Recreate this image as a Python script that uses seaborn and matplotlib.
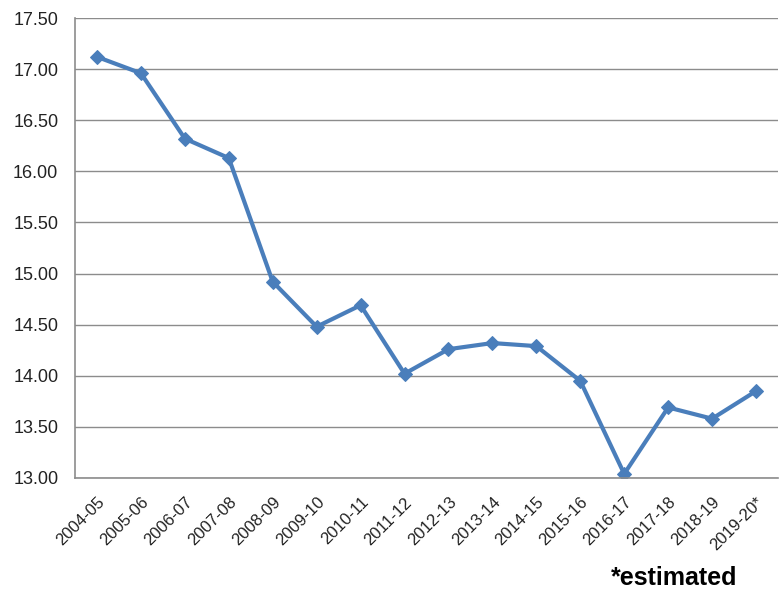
import pandas as pd
import matplotlib
matplotlib.use('Agg')
import matplotlib.pyplot as plt
import seaborn as sns
import numpy as np
from matplotlib.ticker import FixedLocator, FuncFormatter

# Chart values
years = ['2004-05', '2005-06', '2006-07', '2007-08', '2008-09', '2009-10', '2010-11', '2011-12',
         '2012-13', '2013-14', '2014-15', '2015-16', '2016-17', '2017-18', '2018-19', '2019-20*']
values = [17.12, 16.96, 16.32, 16.13, 14.92, 14.48, 14.69, 14.02,
          14.26, 14.32, 14.29, 13.95, 13.04, 13.69, 13.58, 13.85]
y_ticks = [13.0, 13.5, 14.0, 14.5, 15.0, 15.5, 16.0, 16.5, 17.0, 17.5]

df = pd.DataFrame({'Year': years, 'Value': values})
df['pos'] = np.arange(len(years))

sns.set_style('white')
plt.rcParams['font.family'] = ['Liberation Sans', 'DejaVu Sans']

fig = plt.figure(figsize=(7.83, 5.89), dpi=100)
ax = fig.add_axes([0.0958, 0.1885, 0.8978, 0.7809])

sns.lineplot(x='pos', y='Value', data=df, ax=ax, color='#4A7EBB', linewidth=3,
             marker='D', markersize=7, markeredgecolor='#4A7EBB')

ax.set_xlim(-0.5, len(years) - 0.5)
ax.set_ylim(13.0, 17.5)

# Grid
ax.yaxis.set_major_locator(FixedLocator(y_ticks))
ax.yaxis.set_major_formatter(FuncFormatter(lambda v, _: f'{v:.2f}'))
ax.grid(axis='y', color='#8C8C8C', linewidth=1)
ax.set_axisbelow(True)

# X ticks: labels at centers, tick marks at boundaries
ax.xaxis.set_major_locator(FixedLocator(df['pos']))
ax.set_xticklabels(years, rotation=45, ha='right', rotation_mode='anchor')
ax.xaxis.set_minor_locator(FixedLocator(np.arange(-0.5, len(years), 1)))
ax.tick_params(axis='x', which='major', length=0, pad=12, labelsize=12, colors='#222222')
ax.tick_params(axis='x', which='minor', length=6, width=1, color='#8C8C8C', direction='out')
ax.tick_params(axis='y', which='major', length=5, width=1, color='#8C8C8C', direction='out',
               labelsize=13, labelcolor='#222222', pad=7)

for side in ['top', 'right']:
    ax.spines[side].set_visible(False)
for side in ['left', 'bottom']:
    ax.spines[side].set_color('#8C8C8C')
    ax.spines[side].set_linewidth(1.2)

ax.set_xlabel('')
ax.set_ylabel('')

fig.text(0.78, 0.006, '*estimated', fontsize=18, fontweight='bold', color='black')

plt.savefig('out.png', dpi=100)
